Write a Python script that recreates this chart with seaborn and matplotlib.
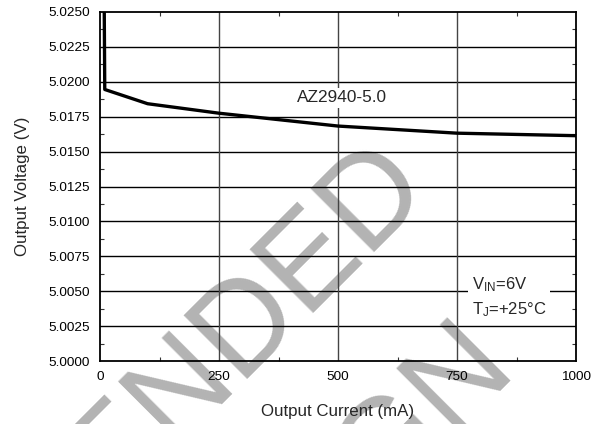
import matplotlib
matplotlib.use("Agg")
import matplotlib.pyplot as plt
import seaborn as sns
import pandas as pd
from matplotlib.ticker import MultipleLocator, FormatStrFormatter

# ---- data ----
current_ma = [8, 10, 100, 250, 500, 750, 1000]
voltage_v = [5.0300, 5.01945, 5.01843, 5.01775, 5.01683, 5.01632, 5.01614]
x_ticks = [0, 250, 500, 750, 1000]
y_ticks = [5.0000, 5.0025, 5.0050, 5.0075, 5.0100, 5.0125, 5.0150,
           5.0175, 5.0200, 5.0225, 5.0250]
series_label = "AZ2940-5.0"
cond_label = "V$_{\\mathregular{IN}}$=6V\nT$_{\\mathregular{J}}$=+25°C"
watermark_1 = "NOT RECOMMENDED"
watermark_2 = "FOR NEW DESIGN"

df = pd.DataFrame({"Output Current (mA)": current_ma,
                   "Output Voltage (V)": voltage_v})

sns.set_style("ticks")
plt.rcParams["font.family"] = ["Liberation Sans", "DejaVu Sans"]
plt.rcParams["mathtext.fontset"] = "custom"
plt.rcParams["mathtext.rm"] = "Liberation Sans"
plt.rcParams["mathtext.it"] = "Liberation Sans"

W, H = 605, 424
fig = plt.figure(figsize=(W / 100, H / 100), dpi=100)
ax = fig.add_axes([100 / W, 1 - 361 / H, 476 / W, 349 / H])
ax.set_facecolor("none")

# watermark behind everything (two diagonal lines)
wm = dict(rotation=45, rotation_mode="anchor", ha="center", va="center",
          fontsize=93, color="#b3b3b3", zorder=-5)
fig.text(-66 / W, 1 - 646 / H, watermark_1, **wm)
fig.text(92 / W, 1 - 752 / H, watermark_2, **wm)

sns.lineplot(data=df, x="Output Current (mA)", y="Output Voltage (V)",
             ax=ax, color="black", linewidth=2.4, zorder=5, estimator=None,
             sort=False)

ax.set_xlim(0, 1000)
ax.set_ylim(5.0, 5.025)
ax.set_xticks(x_ticks)
ax.set_yticks(y_ticks)
ax.yaxis.set_major_formatter(FormatStrFormatter("%.4f"))
ax.xaxis.set_minor_locator(MultipleLocator(125))
ax.yaxis.set_minor_locator(MultipleLocator(0.00125))

for y in y_ticks[1:-1]:
    ax.axhline(y, color="black", linewidth=1.0, zorder=1)
for x in x_ticks[1:-1]:
    ax.axvline(x, color="#444444", linewidth=1.0, zorder=1)

ax.tick_params(which="both", direction="in", top=True, right=True,
               labelsize=9.7, colors="black", pad=7)
ax.tick_params(which="major", length=0)
ax.tick_params(which="minor", length=3, width=0.8, color="#333333")
for s in ax.spines.values():
    s.set_color("black")
    s.set_linewidth(1.3)

ax.set_xlabel("Output Current (mA)", fontsize=12.2, labelpad=15)
ax.set_ylabel("Output Voltage (V)", fontsize=12.2, labelpad=13)

ax.text(508, 5.01884, series_label, fontsize=12.4, ha="center", va="center",
        zorder=4, bbox=dict(facecolor="white", edgecolor="none", pad=1.5))
ax.text(781, 5.00458, cond_label, fontsize=12, ha="left", va="center",
        linespacing=1.5, zorder=4,
        bbox=dict(facecolor="white", edgecolor="none", pad=2.5))

fig.savefig("out.png", dpi=100)
